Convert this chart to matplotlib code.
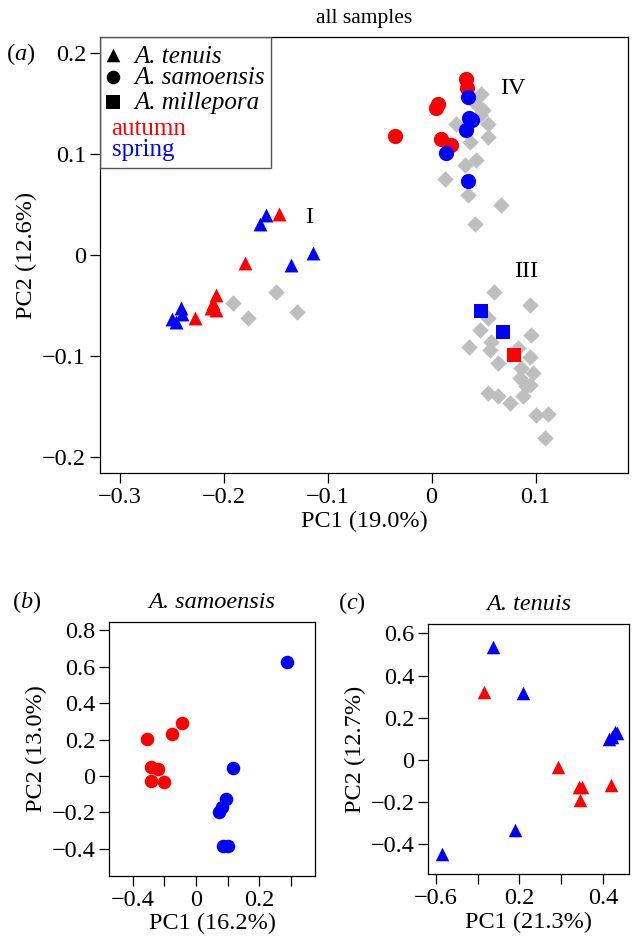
import matplotlib
matplotlib.use('Agg')
import matplotlib.pyplot as plt
from matplotlib.patches import Rectangle

plt.rcParams['font.family'] = 'Liberation Serif'
plt.rcParams['mathtext.fontset'] = 'custom'
plt.rcParams['mathtext.rm'] = 'Liberation Serif'
plt.rcParams['mathtext.it'] = 'Liberation Serif:italic'

RED = '#ff0000'
BLUE = '#0000ff'
GREY = '#bebebe'

# (a) all samples
a_grey_x = [0.0478, 0.0430, 0.0493, 0.0462, 0.0541, 0.0238, 0.0365, 0.0541, 0.0430,
            0.0317, 0.0125, 0.0349, 0.0670, 0.0413,
            -0.1911, -0.1766, -0.1493, -0.1291,
            0.0596, 0.0942, 0.0541, 0.0462, 0.0959, 0.0574, 0.0359, 0.0558, 0.0830,
            0.0942, 0.0638, 0.0863, 0.0974, 0.0846, 0.0942, 0.0541, 0.0638, 0.0750,
            0.0878, 0.0911, 0.1007, 0.1118, 0.1087]
a_grey_y = [0.1598, 0.1499, 0.1433, 0.1383, 0.1301, 0.1301, 0.1121, 0.1170, 0.0939,
            0.0889, 0.0758, 0.0593, 0.0494, 0.0313,
            -0.0477, -0.0625, -0.0369, -0.0559,
            -0.0362, -0.0494, -0.0625, -0.0741, -0.0791, -0.0856, -0.0905, -0.0939, -0.0922,
            -0.1004, -0.1070, -0.1120, -0.1169, -0.1218, -0.1285, -0.1367, -0.1399, -0.1465,
            -0.1399, -0.1300, -0.1581, -0.1574, -0.1811]

a_sam_autumn_x = [0.0327, 0.0339, 0.0061, 0.0045, -0.0356, 0.0093, 0.0189]
a_sam_autumn_y = [0.1746, 0.1654, 0.1500, 0.1457, 0.1180, 0.1153, 0.1087]
a_sam_spring_x = [0.0349, 0.0359, 0.0391, 0.0327, 0.0141, 0.0349]
a_sam_spring_y = [0.1565, 0.1358, 0.1341, 0.1242, 0.1015, 0.0731]

a_ten_autumn_x = [-0.1468, -0.1798, -0.2070, -0.2103, -0.2118, -0.2070, -0.2279]
a_ten_autumn_y = [0.0412, -0.0082, -0.0395, -0.0477, -0.0527, -0.0543, -0.0625]
a_ten_spring_x = [-0.1590, -0.1654, -0.1349, -0.1141, -0.2407, -0.2455, -0.2500, -0.2404]
a_ten_spring_y = [0.0395, 0.0313, -0.0099, 0.0017, -0.0527, -0.0658, -0.0635, -0.0586]

a_mil_autumn_x = [0.0791]
a_mil_autumn_y = [-0.0988]
a_mil_spring_x = [0.0478, 0.0686]
a_mil_spring_y = [-0.0553, -0.0757]

cluster_names = ['IV', 'I', 'III']
cluster_x = [0.0782, -0.1173, 0.0911]
cluster_y = [0.1648, 0.0370, -0.0164]

# (b) A. samoensis
b_autumn_x = [-0.310, -0.152, -0.087, -0.287, -0.239, -0.287, -0.204]
b_autumn_y = [0.202, 0.231, 0.293, 0.048, 0.038, -0.026, -0.031]
b_spring_x = [0.576, 0.234, 0.188, 0.163, 0.147, 0.173, 0.204]
b_spring_y = [0.628, 0.046, -0.126, -0.168, -0.200, -0.383, -0.383]

# (c) A. tenuis
c_autumn_x = [0.115, 0.291, 0.343, 0.350, 0.345, 0.419]
c_autumn_y = [0.322, -0.032, -0.126, -0.130, -0.190, -0.118]
c_spring_x = [0.015, 0.137, 0.208, 0.189, 0.414, 0.422, 0.429, 0.433]
c_spring_y = [-0.445, 0.537, 0.319, -0.332, 0.098, 0.110, 0.134, 0.127]

FS = 17.5


def style(ax, xt, xl, yt, yl):
    ax.set_xticks(xt)
    ax.set_xticklabels(xl)
    ax.set_yticks(yt)
    ax.set_yticklabels(yl)
    ax.tick_params(direction='out', length=7, width=0.9, labelsize=FS, pad=3)
    for s in ax.spines.values():
        s.set_linewidth(0.9)


fig = plt.figure(figsize=(6.34, 9.47), dpi=100)

# panel (a)
ax = fig.add_axes([100 / 634, 1 - 473.3 / 947, 528 / 634, 436.3 / 947])
ax.scatter(a_grey_x, a_grey_y, marker='D', s=70, c=GREY, linewidths=0)
ax.scatter(a_sam_autumn_x, a_sam_autumn_y, marker='o', s=120, c=RED, linewidths=0)
ax.scatter(a_sam_spring_x, a_sam_spring_y, marker='o', s=120, c=BLUE, linewidths=0)
ax.scatter(a_ten_autumn_x, a_ten_autumn_y, marker='^', s=100, c=RED, linewidths=0)
ax.scatter(a_ten_spring_x, a_ten_spring_y, marker='^', s=100, c=BLUE, linewidths=0)
ax.scatter(a_mil_autumn_x, a_mil_autumn_y, marker='s', s=95, c=RED, linewidths=0)
ax.scatter(a_mil_spring_x, a_mil_spring_y, marker='s', s=95, c=BLUE, linewidths=0)
for name, x, y in zip(cluster_names, cluster_x, cluster_y):
    ax.text(x, y, name, fontsize=FS, ha='center', va='center')
ax.set_xlim(-0.3188, 0.1888)
ax.set_ylim(-0.216, 0.216)
style(ax, [-0.3, -0.2, -0.1, 0, 0.1], ['−0.3', '−0.2', '−0.1', '0', '0.1'],
      [-0.2, -0.1, 0, 0.1, 0.2], ['−0.2', '−0.1', '0', '0.1', '0.2'])
ax.set_xlabel('PC1 (19.0%)', fontsize=FS, labelpad=2)
ax.set_ylabel('PC2 (12.6%)', fontsize=FS, labelpad=4)
ax.set_title('all samples', fontsize=15.5, pad=10)

# legend box
ax.add_patch(Rectangle((0, 0.699), 0.3233, 0.301, transform=ax.transAxes,
                       fill=False, edgecolor='#555555', linewidth=1.0, zorder=5))
leg_y = [0.955, 0.905, 0.848, 0.789, 0.741]
lx, tx = 0.025, 0.066
for marker, label, y in zip(['^', 'o', 's'], ['A. tenuis', 'A. samoensis', 'A. millepora'], leg_y):
    ax.scatter([lx], [y + 0.004], marker=marker, s=95, c='black', linewidths=0,
               transform=ax.transAxes, clip_on=False, zorder=6)
    ax.text(tx, y, label, style='italic', fontsize=18, va='center',
            transform=ax.transAxes)
ax.text(0.022, leg_y[3], 'autumn', color=RED, fontsize=18, va='center', transform=ax.transAxes)
ax.text(0.022, leg_y[4], 'spring', color=BLUE, fontsize=18, va='center', transform=ax.transAxes)

# panel (b)
bx = fig.add_axes([109.3 / 634, 1 - 875.7 / 947, 205.7 / 634, 254 / 947])
bx.scatter(b_autumn_x, b_autumn_y, marker='o', s=95, c=RED, linewidths=0)
bx.scatter(b_spring_x, b_spring_y, marker='o', s=95, c=BLUE, linewidths=0)
bx.set_xlim(-0.549, 0.753)
bx.set_ylim(-0.548, 0.848)
style(bx, [-0.4, -0.2, 0, 0.2, 0.4, 0.6], ['−0.4', '', '0', '', '0.2', ''],
      [-0.4, -0.2, 0, 0.2, 0.4, 0.6, 0.8], ['−0.4', '−0.2', '0', '0.2', '0.4', '0.6', '0.8'])
bx.set_xlabel('PC1 (16.2%)', fontsize=FS, labelpad=2)
bx.set_ylabel('PC2 (13.0%)', fontsize=FS, labelpad=3)
bx.set_title('A. samoensis', style='italic', fontsize=FS, pad=10)

# panel (c)
cx = fig.add_axes([428.3 / 634, 1 - 874 / 947, 200.7 / 634, 250 / 947])
cx.scatter(c_autumn_x, c_autumn_y, marker='^', s=95, c=RED, linewidths=0)
cx.scatter(c_spring_x, c_spring_y, marker='^', s=95, c=BLUE, linewidths=0)
cx.set_xlim(-0.018, 0.462)
cx.set_ylim(-0.540, 0.644)
style(cx, [0, 0.1, 0.2, 0.3, 0.4], ['−0.6', '', '0.2', '', '0.4'],
      [-0.4, -0.2, 0, 0.2, 0.4, 0.6], ['−0.4', '−0.2', '0', '0.2', '0.4', '0.6'])
cx.set_xlabel('PC1 (21.3%)', fontsize=FS, labelpad=2)
cx.set_ylabel('PC2 (12.7%)', fontsize=FS, labelpad=3)
cx.set_title('A. tenuis', style='italic', fontsize=FS, pad=10)

# panel letters
fig.text(21 / 634, 1 - 54 / 947, '($a$)', fontsize=FS, ha='center', va='center')
fig.text(27 / 634, 1 - 602 / 947, '($b$)', fontsize=FS, ha='center', va='center')
fig.text(352 / 634, 1 - 603 / 947, '($c$)', fontsize=FS, ha='center', va='center')

fig.savefig('out.png', dpi=100)
